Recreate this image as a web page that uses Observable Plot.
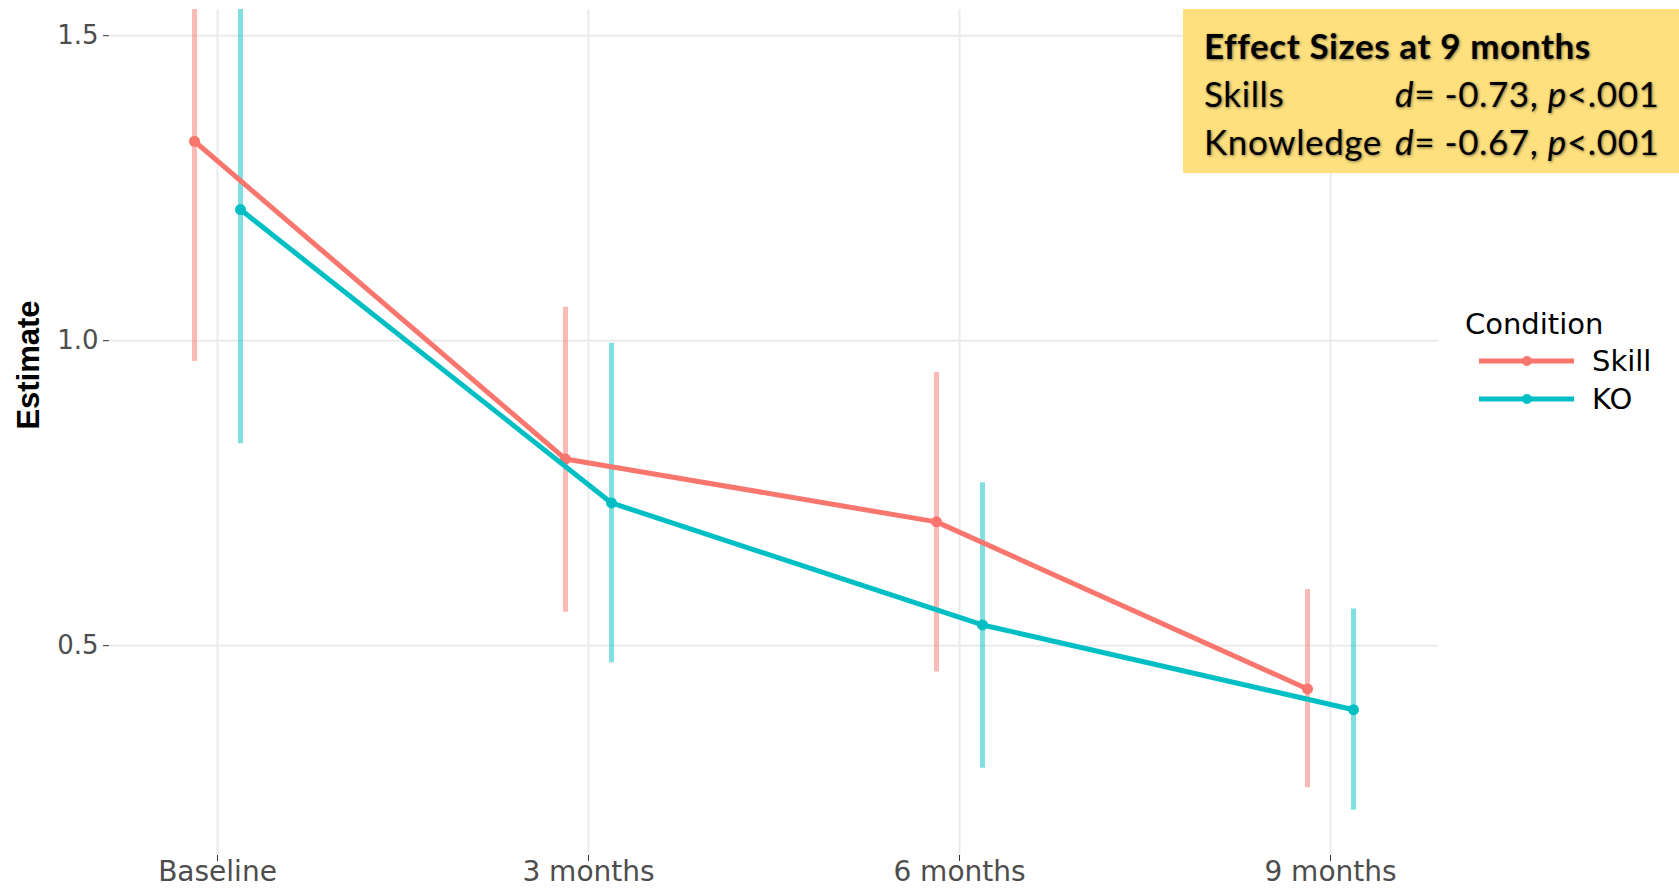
<!DOCTYPE html>
<html>
<head>
<meta charset="utf-8">
<script src="https://cdn.jsdelivr.net/npm/d3@7"></script>
<script src="https://cdn.jsdelivr.net/npm/@observablehq/plot@0.6"></script>
<style>
  html, body { margin: 0; padding: 0; background: #fff; }
  #wrap { position: relative; width: 1679px; height: 889px; overflow: hidden; }
  #ylabel { position: absolute; left: 29px; top: 365px; transform: translate(-50%, -50%) rotate(-90deg);
    font-family: "Liberation Sans", Arial, sans-serif; font-weight: bold; font-size: 31px; color: #000; white-space: nowrap; }
  #note { position: absolute; left: 1183px; top: 9px; width: 496px; height: 164px; background: #FEE17E;
    box-sizing: border-box; padding: 12px 0 0 21px; font-family: Lato, "Open Sans", sans-serif; font-size: 35px;
    letter-spacing: 0.6px; line-height: 48px; color: #000; text-shadow: 1px 1px 3px rgba(0,0,0,0.5); white-space: nowrap; }
  #note .t { font-weight: bold; }
  #note .row { display: flex; }
  #note .row .k { width: 191px; }
  #legend { position: absolute; left: 1440px; top: 290px; }
</style>
</head>
<body>
<div id="wrap"></div>
<script>
const categories = ["Baseline", "3 months", "6 months", "9 months"];
const conditions = ["Skill", "KO"];
const colors = ["#F8766D", "#00BFC4"];
const skillEst = [1.327, 0.806, 0.703, 0.429];
const skillLo  = [0.966, 0.555, 0.457, 0.267];
const skillHi  = [1.688, 1.055, 0.948, 0.592];
const koEst    = [1.215, 0.734, 0.534, 0.395];
const koLo     = [0.831, 0.472, 0.299, 0.230];
const koHi     = [1.599, 0.996, 0.767, 0.560];
const yTicks = [0.5, 1.0, 1.5];
const noteTitle = "Effect Sizes at 9 months";
const noteRows = [
  {k: "Skills", d: "-0.73", p: "<.001"},
  {k: "Knowledge", d: "-0.67", p: "<.001"}
];

const series = {
  Skill: categories.map((c, i) => ({time: c, est: skillEst[i], lo: skillLo[i], hi: skillHi[i]})),
  KO: categories.map((c, i) => ({time: c, est: koEst[i], lo: koLo[i], hi: koHi[i]}))
};
const dodge = {Skill: -23, KO: 23};

const marks = [
  Plot.gridX(categories, {stroke: "#EBEBEB", strokeOpacity: 1, strokeWidth: 2}),
  Plot.gridY(yTicks, {stroke: "#EBEBEB", strokeOpacity: 1, strokeWidth: 2}),
  Plot.axisX({ticks: categories, tickSize: 6, tickPadding: 0, fontSize: 28, stroke: "#333", fill: "#4D4D4D", label: null}),
  Plot.axisY({ticks: yTicks, tickFormat: ".1f", tickSize: 6, tickPadding: 5, fontSize: 26, stroke: "#333", fill: "#4D4D4D", label: null})
];
conditions.forEach((c, k) => {
  marks.push(Plot.ruleX(series[c], {x: "time", y1: "lo", y2: "hi", dx: dodge[c], stroke: colors[k], strokeOpacity: 0.5, strokeWidth: 5, clip: true}));
});
conditions.forEach((c, k) => {
  marks.push(Plot.line(series[c], {x: "time", y: "est", dx: dodge[c], stroke: colors[k], strokeWidth: 5}));
  marks.push(Plot.dot(series[c], {x: "time", y: "est", dx: dodge[c], fill: colors[k], r: 5.5}));
});

const chart = Plot.plot({
  width: 1679, height: 889,
  marginTop: 9, marginBottom: 34, marginLeft: 109, marginRight: 241,
  style: {fontFamily: "DejaVu Sans", background: "white", overflow: "visible"},
  x: {type: "point", domain: categories, padding: 0.288},
  y: {domain: [0.156, 1.543]},
  marks
});
const wrap = document.getElementById("wrap");
wrap.appendChild(chart);

const yl = document.createElement("div");
yl.id = "ylabel"; yl.textContent = "Estimate";
wrap.appendChild(yl);

const note = document.createElement("div");
note.id = "note";
const t = document.createElement("div"); t.className = "t"; t.textContent = noteTitle; note.appendChild(t);
noteRows.forEach(r => {
  const row = document.createElement("div"); row.className = "row";
  row.innerHTML = `<span class="k">${r.k}</span><span><i>d</i>= ${r.d}, <i>p</i>${r.p.replace("<", "&lt;")}</span>`;
  note.appendChild(row);
});
wrap.appendChild(note);

// legend
const ns = "http://www.w3.org/2000/svg";
const lg = document.createElementNS(ns, "svg");
lg.setAttribute("id", "legend"); lg.setAttribute("width", 239); lg.setAttribute("height", 130);
lg.setAttribute("font-family", "DejaVu Sans");
const title = document.createElementNS(ns, "text");
title.setAttribute("x", 25); title.setAttribute("y", 44); title.setAttribute("font-size", 29);
title.textContent = "Condition"; lg.appendChild(title);
conditions.forEach((c, k) => {
  const y = 71 + k * 38;
  const ln = document.createElementNS(ns, "line");
  ln.setAttribute("x1", 39); ln.setAttribute("x2", 134); ln.setAttribute("y1", y); ln.setAttribute("y2", y);
  ln.setAttribute("stroke", colors[k]); ln.setAttribute("stroke-width", 5); lg.appendChild(ln);
  const dt = document.createElementNS(ns, "circle");
  dt.setAttribute("cx", 87); dt.setAttribute("cy", y); dt.setAttribute("r", 5); dt.setAttribute("fill", colors[k]); lg.appendChild(dt);
  const tx = document.createElementNS(ns, "text");
  tx.setAttribute("x", 152); tx.setAttribute("y", y + 10); tx.setAttribute("font-size", 29);
  tx.textContent = c; lg.appendChild(tx);
});
wrap.appendChild(lg);
</script>
</body>
</html>
